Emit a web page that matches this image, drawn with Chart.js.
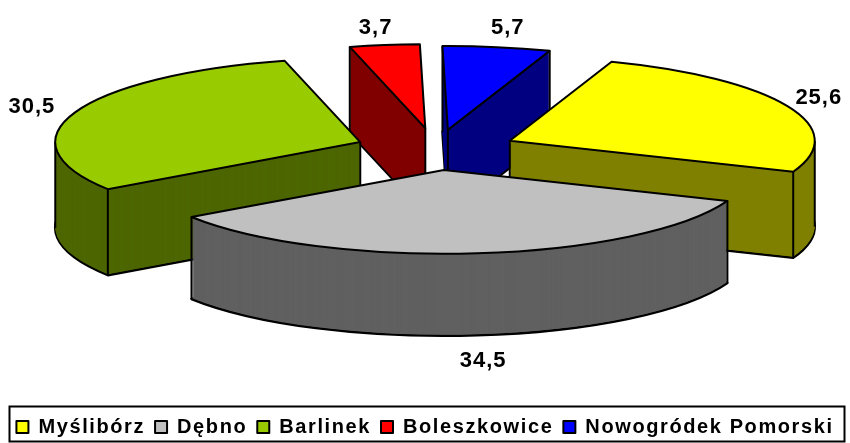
<!DOCTYPE html>
<html>
<head>
<meta charset="utf-8">
<style>
  html, body { margin: 0; padding: 0; background: #fff; }
  canvas { display: block; }
</style>
<script src="https://cdn.jsdelivr.net/npm/chart.js@4"></script>
</head>
<body>
<canvas id="pie" width="850" height="443"></canvas>
<script>
const categories = ['Myślibórz', 'Dębno', 'Barlinek', 'Boleszkowice', 'Nowogródek Pomorski'];
const values = [25.6, 34.5, 30.5, 3.7, 5.7];
const valueLabels = ['25,6', '34,5', '30,5', '3,7', '5,7'];
const topColors = ['#ffff00', '#c0c0c0', '#99cc00', '#ff0000', '#0000ff'];
const wallColors = ['#808000', '#606060', '#4d6600', '#800000', '#000080'];
const explode = [81, 73, 81, 80, 74];
const wallDepth = [86, 82, 86, 86, 86];
const labelNudge = [[-2, 5], [2, 2], [-9, 7], [-4, 2], [5, 0]];

// fake 3D: the pie is squashed around this point and extruded downwards
const centerX = 436;
const centerY = 150;
const squash = 0.275;
const FONT = '"Liberation Sans", Arial, sans-serif';

let baseX = 0, baseY = 0;

function project(x, y) {
    return { x: centerX + (x - baseX), y: centerY + squash * (y - baseY) };
}

function squashTransform(ctx, dy) {
    ctx.translate(centerX, centerY + dy);
    ctx.scale(1, squash);
    ctx.translate(-baseX, -baseY);
}

// keeps stroke width even: the path is squashed, the pen is not
function patchStroke(ctx) {
    const orig = CanvasRenderingContext2D.prototype.stroke;
    ctx.stroke = function () {
        this.save();
        this.setTransform(1, 0, 0, 1, 0, 0);
        orig.call(this);
        this.restore();
    };
}

function drawArcWith(ctx, arc, opts) {
    const keep = arc.options;
    arc.options = Object.assign({}, keep, opts);
    arc.draw(ctx);
    arc.options = keep;
}

function verticalEdges(arc) {
    const a = arc.startAngle, b = arc.endAngle, r = arc.outerRadius;
    const out = [];
    const startWall = -Math.cos(a) > 0, endWall = Math.cos(b) > 0;
    if (startWall || endWall) out.push([arc.x, arc.y]);
    if (startWall || Math.sin(a) > 0) out.push([arc.x + Math.cos(a) * r, arc.y + Math.sin(a) * r]);
    if (endWall || Math.sin(b) > 0) out.push([arc.x + Math.cos(b) * r, arc.y + Math.sin(b) * r]);
    [0, Math.PI, Math.PI * 2].forEach(t => {
        if (t > a && t < b) out.push([arc.x + Math.cos(t) * r, arc.y + Math.sin(t) * r]);
    });
    return out;
}

const pie3d = {
    id: 'pie3d',
    beforeLayout(chart) {
        chart.ctx.letterSpacing = '1.6px';
    },
    afterDatasetsUpdate(chart) {
        // pull the slices apart, in the plane of the pie
        const arcs = chart.getDatasetMeta(0).data;
        baseX = arcs[0].x;
        baseY = arcs[0].y;
        arcs.forEach((arc, i) => {
            const mid = (arc.startAngle + arc.endAngle) / 2;
            arc.x = baseX + Math.cos(mid) * explode[i];
            arc.y = baseY + Math.sin(mid) * explode[i];
        });
    },
    beforeDraw(chart) {
        chart.ctx.letterSpacing = '1.6px';
    },
    beforeDatasetsDraw(chart) {
        const ctx = chart.ctx;
        const arcs = chart.getDatasetMeta(0).data;
        patchStroke(ctx);
        const order = arcs.map((a, i) => i).sort((i, j) => {
            const m = k => Math.sin((arcs[k].startAngle + arcs[k].endAngle) / 2);
            return m(i) - m(j);
        });
        order.forEach(i => {
            const arc = arcs[i];
            const wall = wallColors[i];
            const depth = wallDepth[i];
            ctx.save();
            squashTransform(ctx, depth);
            drawArcWith(ctx, arc, { backgroundColor: wall, borderColor: '#000', borderWidth: 2.5 });
            ctx.restore();
            for (let dy = depth - 1; dy > 0; dy--) {
                ctx.save();
                squashTransform(ctx, dy);
                drawArcWith(ctx, arc, { backgroundColor: wall, borderWidth: 0 });
                ctx.restore();
            }
            ctx.save();
            ctx.strokeStyle = '#000';
            ctx.lineWidth = 2;
            verticalEdges(arc).forEach(p => {
                const q = project(p[0], p[1]);
                ctx.beginPath();
                ctx.moveTo(q.x, q.y);
                ctx.lineTo(q.x, q.y + depth);
                CanvasRenderingContext2D.prototype.stroke.call(ctx);
            });
            ctx.restore();
        });
        ctx.save();
        squashTransform(ctx, 0);
    },
    afterDatasetsDraw(chart) {
        chart.ctx.restore();
        delete chart.ctx.stroke;
    },
    afterDraw(chart) {
        const ctx = chart.ctx;
        const arcs = chart.getDatasetMeta(0).data;
        ctx.save();
        ctx.fillStyle = '#000';
        ctx.font = 'bold 22px ' + FONT;
        ctx.letterSpacing = '1px';
        ctx.textAlign = 'center';
        ctx.textBaseline = 'middle';
        arcs.forEach((arc, i) => {
            const mid = (arc.startAngle + arc.endAngle) / 2;
            const r = arc.outerRadius * 1.12;
            const q = project(arc.x + Math.cos(mid) * r, arc.y + Math.sin(mid) * r);
            const dy = Math.sin(mid) > 0.5 ? wallDepth[i] + 14 : -9;
            ctx.fillText(valueLabels[i], q.x + labelNudge[i][0], q.y + dy + labelNudge[i][1]);
        });
        // legend frame
        ctx.strokeStyle = '#000';
        ctx.lineWidth = 2;
        ctx.strokeRect(9.5, 406.5, 835, 35);
        ctx.restore();
    }
};

new Chart(document.getElementById('pie'), {
    type: 'pie',
    data: {
        labels: categories,
        datasets: [{
            data: values,
            backgroundColor: topColors,
            borderColor: '#000',
            borderWidth: 2,
            borderJoinStyle: 'round',
            clip: false
        }]
    },
    options: {
        responsive: false,
        animation: false,
        rotation: 19.5,
        radius: 305,
        layout: { padding: { bottom: -4 } },
        plugins: {
            tooltip: { enabled: false },
            legend: {
                position: 'bottom',
                labels: {
                    color: '#000',
                    boxWidth: 12,
                    boxHeight: 12,
                    padding: 10,
                    font: { family: FONT, size: 20, weight: 'bold' }
                }
            }
        }
    },
    plugins: [pie3d]
});
</script>
</body>
</html>
